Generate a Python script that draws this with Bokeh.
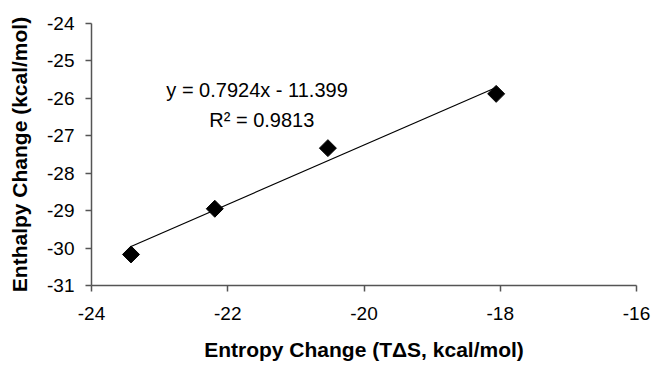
import numpy as np
from bokeh.plotting import figure
from bokeh.models import Range1d, FixedTicker, Label, ColumnDataSource, PrintfTickFormatter
from bokeh.embed import file_html
from bokeh.resources import INLINE

# ---- data ----
entropy = [-23.42, -22.19, -20.53, -18.06]      # T*dS, kcal/mol
enthalpy = [-30.17, -28.95, -27.33, -25.88]     # dH, kcal/mol
slope = 0.7924
intercept = -11.399
r_squared = 0.9813
x_ticks = [-24, -22, -20, -18, -16]
y_ticks = [-31, -30, -29, -28, -27, -26, -25, -24]
x_title = "Entropy Change (T\u0394S, kcal/mol)"
y_title = "Enthalpy Change (kcal/mol)"
eq_text = "y = %.4fx - %.3f" % (slope, -intercept)
r2_text = "R\u00b2 = %.4f" % r_squared

FONT = "Liberation Sans"
AX = "#555555"

p = figure(width=652, height=366, output_backend="svg", toolbar_location=None,
           x_range=Range1d(-24, -16), y_range=Range1d(-31, -24),
           min_border_left=91, min_border_right=16, min_border_top=23,
           min_border_bottom=81)
p.outline_line_color = None
p.grid.visible = False
p.background_fill_color = "white"
p.border_fill_color = "white"

for ax in (p.xaxis[0], p.yaxis[0]):
    ax.axis_line_color = AX
    ax.axis_line_width = 1.5
    ax.major_tick_line_color = AX
    ax.major_tick_line_width = 1.5
    ax.major_tick_in = 0
    ax.major_tick_out = 6
    ax.minor_tick_line_color = None
    ax.formatter = PrintfTickFormatter(format="%d")
    ax.major_label_text_font = FONT
    ax.major_label_text_font_size = "19px"
    ax.major_label_text_color = "black"
    ax.axis_label_text_font = FONT
    ax.axis_label_text_font_size = "21px"
    ax.axis_label_text_font_style = "bold"
    ax.axis_label_text_color = "black"

p.xaxis[0].ticker = FixedTicker(ticks=x_ticks)
p.yaxis[0].ticker = FixedTicker(ticks=y_ticks)
p.xaxis[0].axis_label = x_title
p.yaxis[0].axis_label = y_title
p.xaxis[0].major_label_standoff = 15
p.xaxis[0].axis_label_standoff = 15
p.yaxis[0].major_label_standoff = 11
p.yaxis[0].axis_label_standoff = 13

# trend line from fitted equation over the data span
fx = [min(entropy), max(entropy)]
fy = [slope * v + intercept for v in fx]
p.line(fx, fy, line_color="black", line_width=1.2)

src = ColumnDataSource(dict(x=entropy, y=enthalpy))
p.scatter("x", "y", source=src, marker="square", size=12, angle=np.pi / 4,
          fill_color="black", line_color="black")

p.add_layout(Label(x=-21.57, y=-25.77, text=eq_text, text_align="center",
                   text_baseline="middle", text_font=FONT,
                   text_font_size="20px", text_color="black"))
p.add_layout(Label(x=-21.50, y=-26.57, text=r2_text, text_align="center",
                   text_baseline="middle", text_font=FONT,
                   text_font_size="20px", text_color="black"))

open("out.html", "w").write(file_html(p, INLINE))
